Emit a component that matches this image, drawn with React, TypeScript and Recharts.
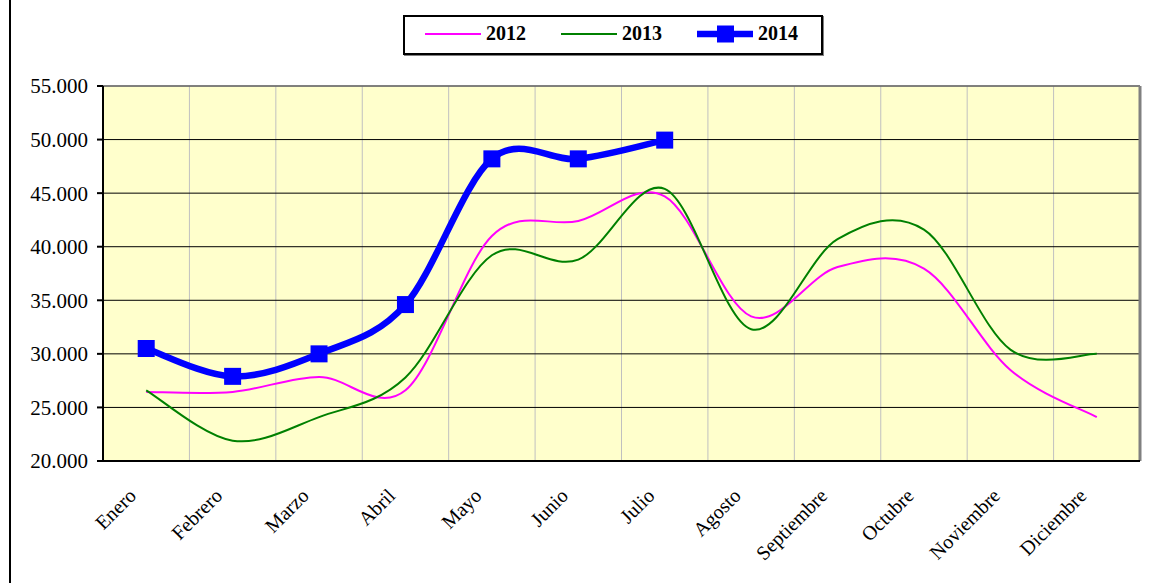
import React from "react";
import {
  LineChart,
  Line,
  XAxis,
  YAxis,
  CartesianGrid,
  ReferenceLine,
  Legend,
} from "recharts";

const months = [
  "Enero",
  "Febrero",
  "Marzo",
  "Abril",
  "Mayo",
  "Junio",
  "Julio",
  "Agosto",
  "Septiembre",
  "Octubre",
  "Noviembre",
  "Diciembre",
];
const serie2012 = [26450, 26450, 27850, 26600, 41000, 42400, 44700, 33500, 38100, 37950, 28500, 24100];
const serie2013 = [26600, 21900, 24100, 27800, 39200, 38800, 45400, 32300, 40700, 41600, 30400, 30000];
const serie2014 = [30500, 27900, 30000, 34600, 48200, 48200, 49950, null, null, null, null, null];
const yTicks = [20000, 25000, 30000, 35000, 40000, 45000, 50000, 55000];

const legendItems = [
  { key: "2012", color: "#FF00FF", width: 2, marker: false },
  { key: "2013", color: "#008000", width: 2, marker: false },
  { key: "2014", color: "#0000FF", width: 6.5, marker: true },
];

const data = months.map((m, i) => ({
  pos: i + 0.5,
  month: m,
  "2012": serie2012[i],
  "2013": serie2013[i],
  "2014": serie2014[i],
}));

const FONT = '"Liberation Serif", "Times New Roman", serif';

// excel-style smoothing (catmull-rom through every point)
function excelSmooth(context: any) {
  let pts: [number, number][] = [];
  return {
    areaStart() {},
    areaEnd() {},
    lineStart() {
      pts = [];
    },
    point(x: number, y: number) {
      pts.push([+x, +y]);
    },
    lineEnd() {
      const n = pts.length;
      if (!n) return;
      context.moveTo(pts[0][0], pts[0][1]);
      for (let i = 0; i < n - 1; i++) {
        const p0 = pts[i - 1] || pts[i];
        const p1 = pts[i];
        const p2 = pts[i + 1];
        const p3 = pts[i + 2] || p2;
        context.bezierCurveTo(
          p1[0] + (p2[0] - p0[0]) / 6,
          p1[1] + (p2[1] - p0[1]) / 6,
          p2[0] - (p3[0] - p1[0]) / 6,
          p2[1] - (p3[1] - p1[1]) / 6,
          p2[0],
          p2[1]
        );
      }
    },
  };
}

const fmtThousands = (v: number) => String(v).replace(/\B(?=(\d{3})+(?!\d))/g, ".");

const MonthTick = (props: any) => {
  const { x, y, payload } = props;
  const label = months[Math.floor(payload.value)] ?? "";
  return (
    <text
      x={0}
      y={0}
      transform={`translate(${x - 9},${y + 36}) rotate(-45)`}
      textAnchor="end"
      fontFamily={FONT}
      fontSize={20}
      fill="#000"
    >
      {label}
    </text>
  );
};

const SquareDot = (props: any) => {
  const { cx, cy, index, value } = props;
  if (cx == null || cy == null || value == null) return <g key={`sq-${index}`} />;
  return <rect key={`sq-${index}`} x={cx - 8.5} y={cy - 8.5} width={17} height={17} fill="#0000FF" />;
};

const LegendBox = () => (
  <div
    style={{
      boxSizing: "border-box",
      width: 420,
      height: 40,
      border: "2px solid #000",
      boxShadow: "1px 1px 0 #808080",
      background: "#fff",
      display: "flex",
      alignItems: "center",
      paddingLeft: 20,
      paddingBottom: 3,
      fontFamily: FONT,
      fontWeight: "bold",
      fontSize: 20,
      color: "#000",
    }}
  >
    {legendItems.map((it) => (
      <div key={it.key} style={{ display: "flex", alignItems: "center", marginRight: 35 }}>
        <svg width={56} height={20} style={{ marginRight: 5 }}>
          <line x1={0} y1={10} x2={56} y2={10} stroke={it.color} strokeWidth={it.width} strokeLinecap="round" />
          {it.marker && <rect x={20} y={1.5} width={17} height={17} fill={it.color} />}
        </svg>
        <span>{it.key}</span>
      </div>
    ))}
  </div>
);

export default function App() {
  return (
    <div style={{ position: "absolute", left: 0, top: 0, width: 1166, height: 583, background: "#fff" }}>
      <div style={{ position: "absolute", left: 9, top: 0, width: 2, height: 583, background: "#000" }} />
      <LineChart
        width={1166}
        height={583}
        data={data}
        margin={{ top: 86, right: 26, bottom: 22, left: 13 }}
      >
        <CartesianGrid
          fill="#FFFFCC"
          horizontal={false}
          stroke="#C0C0C0"
          verticalCoordinatesGenerator={({ xAxis, offset }: any) =>
            months.slice(1).map((_, i) =>
              xAxis && typeof xAxis.scale === "function"
                ? xAxis.scale(i + 1)
                : offset.left + (offset.width * (i + 1)) / months.length
            )
          }
        />
        <CartesianGrid vertical={false} stroke="#000" fill="none" />
        <XAxis
          dataKey="pos"
          type="number"
          domain={[0, months.length]}
          ticks={data.map((d) => d.pos)}
          interval={0}
          height={100}
          tickLine={false}
          tickSize={0}
          tickMargin={0}
          axisLine={{ stroke: "#000", strokeWidth: 2 }}
          tick={<MonthTick />}
        />
        <YAxis
          type="number"
          domain={[20000, 55000]}
          ticks={yTicks}
          interval={0}
          width={90}
          tickSize={6}
          tickMargin={9}
          tickFormatter={fmtThousands}
          axisLine={{ stroke: "#000", strokeWidth: 2 }}
          tickLine={{ stroke: "#000", strokeWidth: 2 }}
          tick={{ fill: "#000", fontFamily: FONT, fontSize: 21 }}
        />
        <ReferenceLine y={55000} stroke="#808080" strokeWidth={1.5} />
        <ReferenceLine x={months.length} stroke="#808080" strokeWidth={3} />
        <Legend
          layout="horizontal"
          verticalAlign="middle"
          align="center"
          wrapperStyle={{ position: "absolute", left: 403, top: 15, width: 420, height: 40 }}
          content={() => <LegendBox />}
        />
        <Line
          dataKey="2012"
          type={excelSmooth as any}
          stroke="#FF00FF"
          strokeWidth={2}
          dot={false}
          activeDot={false}
          isAnimationActive={false}
        />
        <Line
          dataKey="2013"
          type={excelSmooth as any}
          stroke="#008000"
          strokeWidth={2}
          dot={false}
          activeDot={false}
          isAnimationActive={false}
        />
        <Line
          dataKey="2014"
          type={excelSmooth as any}
          stroke="#0000FF"
          strokeWidth={6.5}
          strokeLinejoin="round"
          dot={SquareDot}
          activeDot={false}
          isAnimationActive={false}
        />
      </LineChart>
    </div>
  );
}
